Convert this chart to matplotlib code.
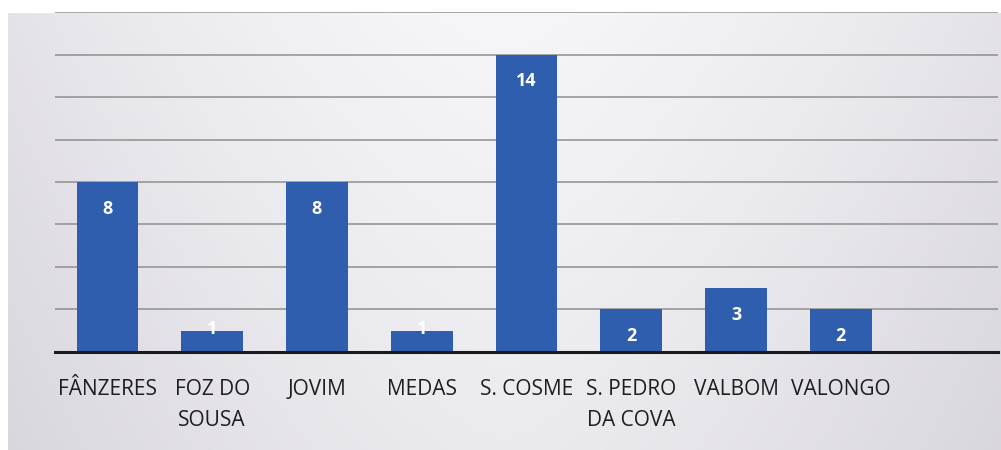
import numpy as np
import matplotlib.pyplot as plt

categories = ['FÂNZERES', 'FOZ DO\nSOUSA', 'JOVIM', 'MEDAS', 'S. COSME',
              'S. PEDRO\nDA COVA', 'VALBOM', 'VALONGO']
values = [8, 1, 8, 1, 14, 2, 3, 2]

bar_color = '#2F5EAE'
text_color = '#1e1e1e'

fig = plt.figure(figsize=(10.01, 4.5), dpi=100)
fig.patch.set_facecolor('white')

# scanned-paper background: grey edges, lighter middle
bg = fig.add_axes([0.008, 0, 0.992, 0.972])
bg.set_axis_off()
xx = np.linspace(-1, 1, 400)
yy = np.linspace(0, 1, 200)
X, Y = np.meshgrid(xx, yy)
light = 1 - 0.55 * np.abs(X) ** 1.5 - 0.35 * Y
light = np.clip(light, 0, 1)
lo = np.array([214, 211, 219]) / 255
hi = np.array([246, 246, 249]) / 255
img = lo + (hi - lo) * light[..., None]
bg.imshow(img, aspect='auto', extent=[0, 1, 0, 1], origin='upper')

ax = fig.add_axes([0.055, 0.218, 0.942, 0.755])
ax.patch.set_alpha(0)
x = np.arange(len(categories))
ax.bar(x, values, width=0.59, color=bar_color, zorder=3)
ax.set_xlim(-0.5, 8.5)
ax.set_ylim(0, 16)
ax.set_yticks(np.arange(0, 17, 2))
ax.yaxis.grid(True, color='#8f8f8f', linewidth=1.1, zorder=0)
ax.tick_params(axis='y', left=False, labelleft=False)
ax.tick_params(axis='x', bottom=False, pad=16)
ax.set_xticks(x)
ax.set_xticklabels(categories, fontsize=15, color=text_color,
                   family=['Open Sans', 'DejaVu Sans'], linespacing=1.6,
                   va='top')
for side in ['top', 'right', 'left']:
    ax.spines[side].set_visible(False)
ax.spines['bottom'].set_color('#1a1a1a')
ax.spines['bottom'].set_linewidth(2.2)
ax.spines['bottom'].set_zorder(4)

for xi, v in zip(x, values):
    y = v - 1.25 if v >= 2 else v + 0.1
    ax.text(xi, y, str(v), ha='center', va='center', color='white',
            fontsize=13, fontweight='bold', zorder=5,
            family=['Open Sans', 'DejaVu Sans'])

fig.savefig('out.png', dpi=100)
